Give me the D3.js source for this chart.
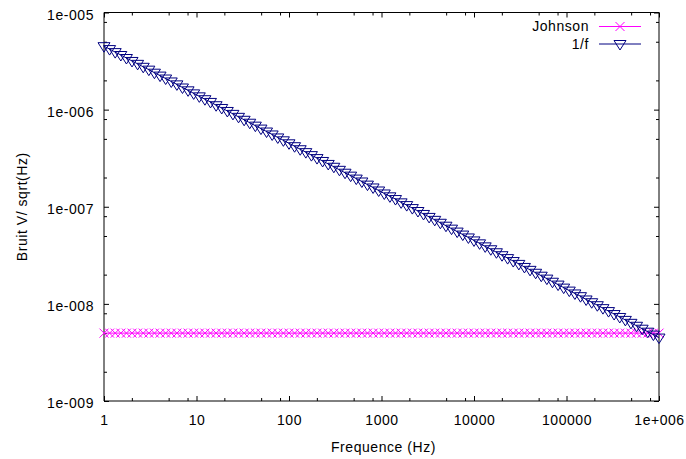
<!DOCTYPE html>
<html><head><meta charset="utf-8">
<script src="https://cdn.jsdelivr.net/npm/d3@7"></script>
<style>
body{margin:0;background:#fff;}
text{font-family:"Liberation Sans",Arial,sans-serif;}
</style></head>
<body><svg id="c" width="686" height="459"></svg>
<script>
// ---- data ----
const frequencies = [
1, 1.14976, 1.32194, 1.51991, 1.74753, 2.00923, 2.31013, 2.65609, 3.05385, 3.51119,
4.03701, 4.64159, 5.33670, 6.13591, 7.05480, 8.11131, 9.32603, 10.7227, 12.3285, 14.1747,
16.2975, 18.7382, 21.5443, 24.7707, 28.4803, 32.7455, 37.6493, 43.2875, 49.7703, 57.2237,
65.7933, 75.6463, 86.9748, 100, 114.976, 132.194, 151.991, 174.753, 200.923, 231.013,
265.608, 305.385, 351.119, 403.701, 464.159, 533.670, 613.590, 705.480, 811.130, 932.603,
1072.27, 1232.85, 1417.47, 1629.75, 1873.82, 2154.43, 2477.07, 2848.03, 3274.55, 3764.93,
4328.75, 4977.03, 5722.37, 6579.33, 7564.63, 8697.48, 10000, 11497.6, 13219.4, 15199.1,
17475.3, 20092.3, 23101.3, 26560.8, 30538.5, 35111.9, 40370.1, 46415.9, 53367.0, 61359.0,
70548.0, 81113.0, 93260.3, 107227, 123285, 141747, 162975, 187382, 215443, 247707,
284803, 327455, 376493, 432875, 497703, 572237, 657933, 756463, 869748, 1000000
];
const johnson = [
5e-9,5e-9,5e-9,5e-9,5e-9,5e-9,5e-9,5e-9,5e-9,5e-9,
5e-9,5e-9,5e-9,5e-9,5e-9,5e-9,5e-9,5e-9,5e-9,5e-9,
5e-9,5e-9,5e-9,5e-9,5e-9,5e-9,5e-9,5e-9,5e-9,5e-9,
5e-9,5e-9,5e-9,5e-9,5e-9,5e-9,5e-9,5e-9,5e-9,5e-9,
5e-9,5e-9,5e-9,5e-9,5e-9,5e-9,5e-9,5e-9,5e-9,5e-9,
5e-9,5e-9,5e-9,5e-9,5e-9,5e-9,5e-9,5e-9,5e-9,5e-9,
5e-9,5e-9,5e-9,5e-9,5e-9,5e-9,5e-9,5e-9,5e-9,5e-9,
5e-9,5e-9,5e-9,5e-9,5e-9,5e-9,5e-9,5e-9,5e-9,5e-9,
5e-9,5e-9,5e-9,5e-9,5e-9,5e-9,5e-9,5e-9,5e-9,5e-9,
5e-9,5e-9,5e-9,5e-9,5e-9,5e-9,5e-9,5e-9,5e-9,5e-9
];
const noise1f = [
4.50e-6, 4.20e-6, 3.91e-6, 3.65e-6, 3.40e-6, 3.17e-6, 2.96e-6, 2.76e-6, 2.58e-6, 2.40e-6,
2.24e-6, 2.09e-6, 1.95e-6, 1.82e-6, 1.69e-6, 1.58e-6, 1.47e-6, 1.37e-6, 1.28e-6, 1.20e-6,
1.11e-6, 1.04e-6, 9.69e-7, 9.04e-7, 8.43e-7, 7.86e-7, 7.33e-7, 6.84e-7, 6.38e-7, 5.95e-7,
5.55e-7, 5.17e-7, 4.83e-7,
4.50e-7, 4.20e-7, 3.91e-7, 3.65e-7, 3.40e-7, 3.17e-7, 2.96e-7, 2.76e-7, 2.58e-7, 2.40e-7,
2.24e-7, 2.09e-7, 1.95e-7, 1.82e-7, 1.69e-7, 1.58e-7, 1.47e-7, 1.37e-7, 1.28e-7, 1.20e-7,
1.11e-7, 1.04e-7, 9.69e-8, 9.04e-8, 8.43e-8, 7.86e-8, 7.33e-8, 6.84e-8, 6.38e-8, 5.95e-8,
5.55e-8, 5.17e-8, 4.83e-8,
4.50e-8, 4.20e-8, 3.91e-8, 3.65e-8, 3.40e-8, 3.17e-8, 2.96e-8, 2.76e-8, 2.58e-8, 2.40e-8,
2.24e-8, 2.09e-8, 1.95e-8, 1.82e-8, 1.69e-8, 1.58e-8, 1.47e-8, 1.37e-8, 1.28e-8, 1.20e-8,
1.11e-8, 1.04e-8, 9.69e-9, 9.04e-9, 8.43e-9, 7.86e-9, 7.33e-9, 6.84e-9, 6.38e-9, 5.95e-9,
5.55e-9, 5.17e-9, 4.83e-9,
4.50e-9
];
const seriesNames = ["Johnson", "1/f"];
const xTickValues = [1, 10, 100, 1000, 10000, 100000, 1000000];
const xTickLabels = ["1", "10", "100", "1000", "10000", "100000", "1e+006"];
const yTickValues = [1e-9, 1e-8, 1e-7, 1e-6, 1e-5];
const yTickLabels = ["1e-009", "1e-008", "1e-007", "1e-006", "1e-005"];
const minorMultipliers = [2, 5, 8];
const xTitle = "Frequence (Hz)";
const yTitle = "Bruit V/ sqrt(Hz)";

// ---- layout ----
const L = 104, R = 659, T = 12.5, B = 401;
const svg = d3.select("#c");
const x = d3.scaleLog().domain([1, 1e6]).range([L, R]);
const y = d3.scaleLog().domain([1e-9, 1e-5]).range([B, T]);

function minors(major) {
  const out = [];
  for (let i = 0; i < major.length - 1; i++) minorMultipliers.forEach(m => out.push(major[i] * m));
  return out;
}
const xMinor = minors(xTickValues), yMinor = minors(yTickValues);
const fontSize = 14, ls = "0.55px";

function styleAxis(g) {
  g.select(".domain").remove();
  g.selectAll(".tick line").attr("stroke", "#000").attr("stroke-width", 1);
  g.selectAll("text").attr("font-size", fontSize).attr("fill", "#000")
    .attr("font-family", '"Liberation Sans", Arial, sans-serif').style("letter-spacing", ls);
}
// bottom
svg.append("g").attr("transform", `translate(0,${B})`)
  .call(d3.axisBottom(x).tickValues(xTickValues).tickFormat((d, i) => xTickLabels[i]).tickSizeInner(-5).tickSizeOuter(0).tickPadding(14))
  .call(styleAxis);
svg.append("g").attr("transform", `translate(0,${B})`)
  .call(d3.axisBottom(x).tickValues(xMinor).tickFormat("").tickSizeInner(-3).tickSizeOuter(0)).call(styleAxis);
// top
svg.append("g").attr("transform", `translate(0,${T})`)
  .call(d3.axisTop(x).tickValues(xTickValues).tickFormat("").tickSizeInner(-5).tickSizeOuter(0)).call(styleAxis);
svg.append("g").attr("transform", `translate(0,${T})`)
  .call(d3.axisTop(x).tickValues(xMinor).tickFormat("").tickSizeInner(-3).tickSizeOuter(0)).call(styleAxis);
// left
const gl = svg.append("g").attr("transform", `translate(${L},0)`)
  .call(d3.axisLeft(y).tickValues(yTickValues).tickFormat((d, i) => yTickLabels[i]).tickSizeInner(-5).tickSizeOuter(0).tickPadding(10))
  .call(styleAxis);
gl.selectAll("text").attr("dy", "6.5px");
svg.append("g").attr("transform", `translate(${L},0)`)
  .call(d3.axisLeft(y).tickValues(yMinor).tickFormat("").tickSizeInner(-3).tickSizeOuter(0)).call(styleAxis);
// right
svg.append("g").attr("transform", `translate(${R},0)`)
  .call(d3.axisRight(y).tickValues(yTickValues).tickFormat("").tickSizeInner(-5).tickSizeOuter(0)).call(styleAxis);
svg.append("g").attr("transform", `translate(${R},0)`)
  .call(d3.axisRight(y).tickValues(yMinor).tickFormat("").tickSizeInner(-3).tickSizeOuter(0)).call(styleAxis);

// border
svg.append("path")
  .attr("d", `M${L},${T}H${R}V${B}H${L}Z`)
  .attr("fill", "none").attr("stroke", "#000").attr("stroke-width", 1);

// titles
svg.append("text").attr("x", (L + R) / 2 + 2).attr("y", 451.5).attr("text-anchor", "middle")
  .attr("font-size", fontSize).style("letter-spacing", ls).text(xTitle);
svg.append("text").attr("transform", `translate(27,${(T + B) / 2}) rotate(-90)`).attr("text-anchor", "middle")
  .attr("font-size", fontSize).style("letter-spacing", ls).text(yTitle);

// series
const colJ = "#ff00ff", colF = "#000080";
const line = d3.line().x(d => x(d[0])).y(d => y(d[1]));
const dataJ = frequencies.map((f, i) => [f, johnson[i]]);
const dataF = frequencies.map((f, i) => [f, noise1f[i]]);

function cross(g, cx, cy, col) {
  const s = 4.5;
  g.append("path").attr("d", `M${cx - s},${cy - s}L${cx + s},${cy + s}M${cx - s},${cy + s}L${cx + s},${cy - s}`)
    .attr("stroke", col).attr("stroke-width", 1).attr("fill", "none");
}
function tri(g, cx, cy, col) {
  g.append("path").attr("d", `M${cx - 6},${cy - 3.5}L${cx + 6},${cy - 3.5}L${cx},${cy + 6}Z`)
    .attr("stroke", col).attr("stroke-width", 1).attr("fill", "none");
}

const gJ = svg.append("g");
gJ.append("path").datum(dataJ).attr("d", line).attr("fill", "none").attr("stroke", colJ).attr("stroke-width", 1);
dataJ.forEach(d => cross(gJ, x(d[0]), y(d[1]), colJ));

const gF = svg.append("g");
gF.append("path").datum(dataF).attr("d", line).attr("fill", "none").attr("stroke", colF).attr("stroke-width", 1);
dataF.forEach(d => tri(gF, x(d[0]), y(d[1]), colF));

// legend
const legRight = 589, lx0 = 599, lx1 = 641, lmx = 620;
const legRows = [{name: seriesNames[0], col: colJ, y: 26.5, mark: cross, base: 31},
                 {name: seriesNames[1], col: colF, y: 44, mark: tri, base: 48.5}];
legRows.forEach(r => {
  svg.append("text").attr("x", legRight).attr("y", r.base).attr("text-anchor", "end")
    .attr("font-size", fontSize).style("letter-spacing", ls).text(r.name);
  svg.append("line").attr("x1", lx0).attr("x2", lx1).attr("y1", r.y).attr("y2", r.y)
    .attr("stroke", r.col).attr("stroke-width", 1);
  r.mark(svg, lmx, r.y, r.col);
});
</script></body></html>
